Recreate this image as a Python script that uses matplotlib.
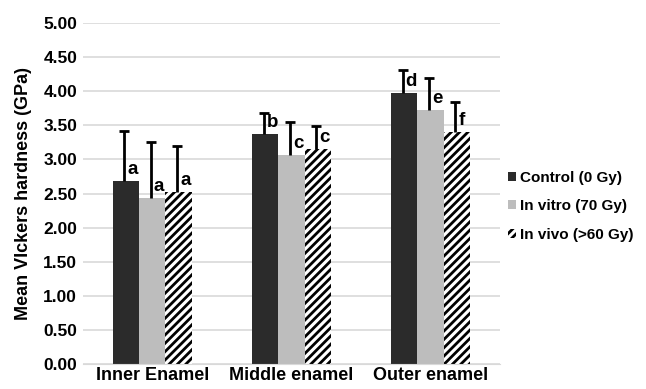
import numpy as np
import matplotlib.pyplot as plt
from matplotlib.patches import Patch

plt.rcParams['font.family'] = ['Liberation Sans', 'DejaVu Sans']
plt.rcParams['hatch.linewidth'] = 2.0

regions = ['Inner Enamel', 'Middle enamel', 'Outer enamel']
groups = ['Control (0 Gy)', 'In vitro (70 Gy)', 'In vivo (>60 Gy)']
control = [2.68, 3.37, 3.97]
vitro = [2.43, 3.06, 3.72]
vivo = [2.52, 3.15, 3.40]
control_sd = [0.74, 0.31, 0.34]
vitro_sd = [0.83, 0.49, 0.48]
vivo_sd = [0.68, 0.34, 0.44]
letters = [['a', 'a', 'a'], ['b', 'c', 'c'], ['d', 'e', 'f']]
yticks = [0, 0.5, 1, 1.5, 2, 2.5, 3, 3.5, 4, 4.5, 5]

fig = plt.figure(figsize=(6.46, 3.89), dpi=100)
ax = fig.add_axes([0.128, 0.064, 0.646, 0.877])

x = np.arange(len(regions))
w = 0.19
series = [control, vitro, vivo]
sds = [control_sd, vitro_sd, vivo_sd]
colors = ['#2b2b2b', '#bdbdbd', 'white']
hatches = [None, None, '////']
for i in range(3):
    pos = x + (i - 1) * w
    ax.bar(pos, series[i], w, color=colors[i], hatch=hatches[i],
           edgecolor='white' if i < 2 else 'black', linewidth=0, zorder=2)
    eb = ax.errorbar(pos - 0.01, series[i], yerr=[np.zeros(3), sds[i]], fmt='none',
                     ecolor='black', elinewidth=2, capsize=3.5, capthick=2, zorder=3)
    eb[1][0].set_visible(False)  # no cap at bar top
    for j in range(3):
        ax.text(pos[j] + 0.012, series[i][j] + 0.05, letters[j][i], fontsize=13.5,
                fontweight='bold', ha='left', va='bottom', zorder=4)

ax.set_xlim(-0.5, 2.5)
ax.set_ylim(0, 5)
ax.set_yticks(yticks)
ax.set_yticklabels(['%.2f' % t for t in yticks], fontsize=12.5, fontweight='bold')
ax.set_xticks(x)
ax.set_xticklabels(regions, fontsize=13, fontweight='bold')
ax.tick_params(length=0, pad=4)
ax.tick_params(axis='x', pad=2)
ax.grid(axis='y', color='#d9d9d9', linewidth=1.2, zorder=0)
ax.set_axisbelow(True)
for s in ['top', 'right', 'left']:
    ax.spines[s].set_visible(False)
ax.spines['bottom'].set_color('#d9d9d9')
ax.set_ylabel('Mean VIckers hardness (GPa)', fontsize=13, fontweight='bold', labelpad=8)

handles = [Patch(facecolor=colors[0]), Patch(facecolor=colors[1]),
           Patch(facecolor='white', hatch='////', edgecolor='black', linewidth=0)]
fig.legend(handles, groups, loc='center left', bbox_to_anchor=(0.765, 0.47), frameon=False,
           prop={'size': 11, 'weight': 'bold'}, handlelength=0.55, handleheight=0.55,
           handletextpad=0.25, labelspacing=0.95)

fig.savefig('out.png', dpi=100)
